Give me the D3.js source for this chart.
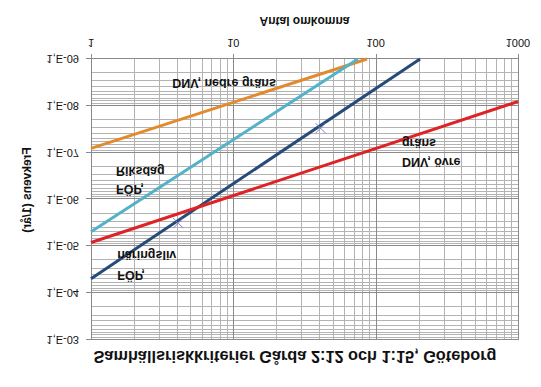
<!DOCTYPE html>
<html>
<head>
<meta charset="utf-8">
<script src="https://cdn.jsdelivr.net/npm/d3@7"></script>
<style>
  body { margin: 0; background: #fff; }
  text { font-family: "Liberation Sans", Arial, sans-serif; fill: #111; }
</style>
</head>
<body>
<script>
// values (N = antal omkomna, F = frekvens per år)
var xTickValues = [1, 10, 100, 1000];
var xTickLabels = ["1", "10", "100", "1000"];
var yTickValues = [1e-9, 1e-8, 1e-7, 1e-6, 1e-5, 1e-4, 1e-3];
var yTickLabels = ["1,E-09", "1,E-08", "1,E-07", "1,E-06", "1,E-05", "1,E-04", "1,E-03"];

var nedreN = [1, 87];
var nedreF = [8.1e-8, 1e-9];
var ovreN = [1, 1000];
var ovreF = [8.3e-6, 8.1e-9];
var riksdagN = [1, 75];
var riksdagF = [4.9e-6, 1e-9];
var naringslivN = [1, 205];
var naringslivF = [4.9e-5, 1e-9];
var punktN = [4.1, 41];
var punktF = [3.2e-6, 3.0e-8];

var labelTexts = ["DNV, nedre gräns", "FÖP,", "Riksdag", "FÖP,", "näringsliv", "DNV, övre", "gräns"];
var labelN = [3.72, 1.5, 1.5, 1.53, 1.53, 153, 153];
var labelF = [3.3e-9, 6.1e-7, 2.5e-7, 4.1e-5, 1.54e-5, 1.64e-7, 6.3e-8];

var svgWidth = 541;
var svgHeight = 387;

var margin = {top: 47, right: 23, bottom: 59, left: 91};
var width = svgWidth - margin.left - margin.right;
var height = svgHeight - margin.top - margin.bottom;

var svg = d3.select("body")
  .append("svg")
  .attr("width", svgWidth)
  .attr("height", svgHeight);

svg.append("rect").attr("width", svgWidth).attr("height", svgHeight).attr("fill", "#fff");

// the reference picture is mirrored top to bottom, so draw normally and flip
var chart = svg.append("g")
  .attr("transform", "translate(0," + svgHeight + ") scale(1,-1)");

var chartGroup = chart.append("g")
  .attr("transform", `translate(${margin.left}, ${margin.top})`);

var xScale = d3.scaleLog().domain([1, 1000]).range([0, width]);
var yScale = d3.scaleLog().domain([1e-9, 1e-3]).range([height, 0]);

function isMajor(v) {
  var l = Math.log10(v);
  return Math.abs(l - Math.round(l)) < 1e-6;
}

// grid
var xMinor = xScale.ticks().filter(function(v) { return !isMajor(v); });
var yMinor = yScale.ticks().filter(function(v) { return !isMajor(v); });

chartGroup.selectAll(".xminor")
  .data(xMinor)
  .enter()
  .append("line")
  .attr("x1", d => Math.round(xScale(d)) + 0.5)
  .attr("x2", d => Math.round(xScale(d)) + 0.5)
  .attr("y1", 0)
  .attr("y2", height)
  .attr("stroke", "#b3b3b3");

chartGroup.selectAll(".yminor")
  .data(yMinor)
  .enter()
  .append("line")
  .attr("x1", 0)
  .attr("x2", width)
  .attr("y1", d => Math.round(yScale(d)) + 0.5)
  .attr("y2", d => Math.round(yScale(d)) + 0.5)
  .attr("stroke", "#b3b3b3");

chartGroup.selectAll(".xmajor")
  .data(xTickValues)
  .enter()
  .append("line")
  .attr("x1", d => Math.round(xScale(d)) + 0.5)
  .attr("x2", d => Math.round(xScale(d)) + 0.5)
  .attr("y1", 0)
  .attr("y2", height + 5)
  .attr("stroke", "#8a8a8a");

chartGroup.selectAll(".ymajor")
  .data(yTickValues)
  .enter()
  .append("line")
  .attr("x1", -5)
  .attr("x2", width)
  .attr("y1", d => Math.round(yScale(d)) + 0.5)
  .attr("y2", d => Math.round(yScale(d)) + 0.5)
  .attr("stroke", "#8a8a8a");

// tick labels
chartGroup.selectAll(".ylab")
  .data(yTickValues)
  .enter()
  .append("text")
  .attr("x", -12)
  .attr("y", d => yScale(d))
  .attr("dy", "0.35em")
  .attr("text-anchor", "end")
  .style("font-size", "11px")
  .text((d, i) => yTickLabels[i]);

chartGroup.selectAll(".xlab")
  .data(xTickValues)
  .enter()
  .append("text")
  .attr("x", d => xScale(d))
  .attr("y", height + 16)
  .attr("dy", "0.35em")
  .attr("text-anchor", "middle")
  .style("font-size", "11px")
  .text((d, i) => xTickLabels[i]);

// series
var series = [
  {n: nedreN, f: nedreF, color: "#e38a2c"},
  {n: riksdagN, f: riksdagF, color: "#52b2c8"},
  {n: naringslivN, f: naringslivF, color: "#264a7a"},
  {n: ovreN, f: ovreF, color: "#de2226"}
];

var line = d3.line()
  .x(d => xScale(d[0]))
  .y(d => yScale(d[1]));

chartGroup.selectAll(".serie")
  .data(series)
  .enter()
  .append("path")
  .attr("d", s => line(s.n.map((v, i) => [v, s.f[i]])))
  .attr("fill", "none")
  .attr("stroke", s => s.color)
  .attr("stroke-width", 3);

// small x markers
var marks = chartGroup.selectAll(".mark")
  .data(punktN.map((v, i) => [v, punktF[i]]))
  .enter()
  .append("path")
  .attr("transform", d => `translate(${xScale(d[0])}, ${yScale(d[1])})`)
  .attr("d", "M-5,-5L5,5M-5,5L5,-5")
  .attr("stroke", "#7f7fc6")
  .attr("stroke-width", 1)
  .attr("fill", "none");

// series labels
chartGroup.selectAll(".serielab")
  .data(labelTexts)
  .enter()
  .append("text")
  .attr("x", (d, i) => xScale(labelN[i]))
  .attr("y", (d, i) => yScale(labelF[i]))
  .attr("dy", "0.35em")
  .style("font-size", "12.5px")
  .style("font-weight", "bold")
  .text(d => d);

// titles
chart.append("text")
  .attr("x", 295)
  .attr("y", 30)
  .attr("dy", "0.35em")
  .attr("text-anchor", "middle")
  .attr("textLength", 403)
  .attr("lengthAdjust", "spacingAndGlyphs")
  .style("font-size", "16px")
  .style("font-weight", "bold")
  .text("Samhällsriskkriterier Gårda 2:12 och 1:15, Göteborg");

chart.append("text")
  .attr("x", margin.left + width / 2)
  .attr("y", 366)
  .attr("dy", "0.35em")
  .attr("text-anchor", "middle")
  .style("font-size", "12px")
  .style("font-weight", "bold")
  .text("Antal omkomna");

chart.append("text")
  .attr("transform", "translate(27,197) rotate(-90)")
  .attr("dy", "0.35em")
  .attr("text-anchor", "middle")
  .style("font-size", "12px")
  .style("font-weight", "bold")
  .text("Frekvens (1/år)");
</script>
</body>
</html>
